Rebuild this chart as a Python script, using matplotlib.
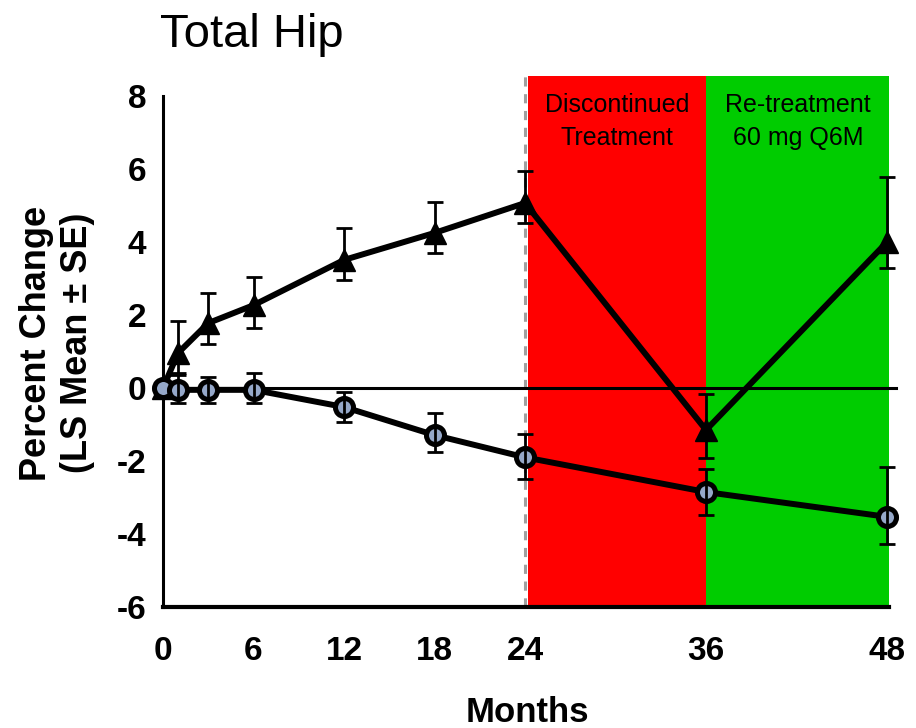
import matplotlib
matplotlib.use("Agg")
import matplotlib.pyplot as plt

plt.rcParams['font.family'] = ['Liberation Sans', 'DejaVu Sans']

# Data (months, LS mean % change, SE lower/upper)
months_tri = [0, 1, 3, 6, 12, 18, 24, 36, 48]
tri_mean = [0.0, 0.96, 1.78, 2.27, 3.51, 4.25, 5.07, -1.15, 4.0]
tri_err_lo = [0.0, 0.54, 0.58, 0.63, 0.55, 0.55, 0.55, 0.77, 0.71]
tri_err_hi = [0.0, 0.88, 0.82, 0.77, 0.87, 0.85, 0.88, 1.0, 1.78]

months_circ = [0, 1, 3, 6, 12, 18, 24, 36, 48]
circ_mean = [0.0, -0.05, -0.05, -0.05, -0.52, -1.29, -1.9, -2.85, -3.53]
circ_err_lo = [0.0, 0.36, 0.36, 0.36, 0.41, 0.46, 0.59, 0.63, 0.74]
circ_err_hi = [0.0, 0.41, 0.35, 0.46, 0.42, 0.61, 0.64, 0.63, 1.37]

xticks = [0, 6, 12, 18, 24, 36, 48]
yticks = [-6, -4, -2, 0, 2, 4, 6, 8]

fig = plt.figure(figsize=(9.16, 7.28), dpi=100)
ax = fig.add_axes([163/916, 121/728, 726.3/916, 531/728])
ax.set_xlim(0, 48.15)
ax.set_ylim(-6, 8.55)

# Phase shading
ax.axvspan(24.2, 36, color='#ff0000', lw=0, zorder=0)
ax.axvspan(36, 48.15, color='#00cc00', lw=0, zorder=0)
ax.axvline(24, color='#a0a0a0', lw=2.2, ls=(0, (3, 2.5)), zorder=1)

# zero line
ax.plot([0, 48.6], [0, 0], color='black', lw=2.2, zorder=2, clip_on=False)

ax.text(30.1, 7.3, 'Discontinued\nTreatment', ha='center', va='center',
        fontsize=18, linespacing=1.45, zorder=3)
ax.text(42.1, 7.3, 'Re-treatment\n60 mg Q6M', ha='center', va='center',
        fontsize=18, linespacing=1.45, zorder=3)

# Triangle series
ax.plot(months_tri, tri_mean, color='black', lw=4.3, marker='^',
        markersize=16, markerfacecolor='black', markeredgecolor='black',
        zorder=4, clip_on=False)
ax.errorbar(months_tri[1:], tri_mean[1:], yerr=[tri_err_lo[1:], tri_err_hi[1:]],
            fmt='none', ecolor='black', elinewidth=2, capsize=6, capthick=2,
            zorder=5, clip_on=False)

# Circle series
ax.plot(months_circ, circ_mean, color='black', lw=4.3, marker='o',
        markersize=13, markerfacecolor='#95a8c9', markeredgecolor='black',
        markeredgewidth=3.6, zorder=6, clip_on=False)
ax.errorbar(months_circ[1:], circ_mean[1:], yerr=[circ_err_lo[1:], circ_err_hi[1:]],
            fmt='none', ecolor='black', elinewidth=2, capsize=6, capthick=2,
            zorder=7, clip_on=False)

# Axes styling
for s in ['top', 'right']:
    ax.spines[s].set_visible(False)
ax.spines['left'].set_bounds(-6, 8)
ax.spines['left'].set_linewidth(2.2)
ax.spines['bottom'].set_linewidth(3)
ax.spines['left'].set_zorder(5.5)
ax.spines['bottom'].set_zorder(8)

ax.set_xticks(xticks)
ax.set_yticks(yticks)
ax.set_xticklabels([str(v) for v in xticks], fontsize=24, fontweight='bold')
ax.set_yticklabels([str(v) for v in yticks], fontsize=24, fontweight='bold')
ax.tick_params(axis='x', length=0, pad=21)
ax.tick_params(axis='y', length=0, pad=12)

fig.text(527/916, 1 - 712/728, 'Months', ha='center', va='center',
         fontsize=25, fontweight='bold')
fig.text(57/916, 1 - 343/728, 'Percent Change\n(LS Mean ± SE)', ha='center',
         va='center', rotation=90, fontsize=26, fontweight='bold',
         linespacing=1.2, multialignment='center')
fig.text(160/916, 1 - 35/728, 'Total Hip', ha='left', va='center', fontsize=34)

fig.savefig('out.png', dpi=100)
